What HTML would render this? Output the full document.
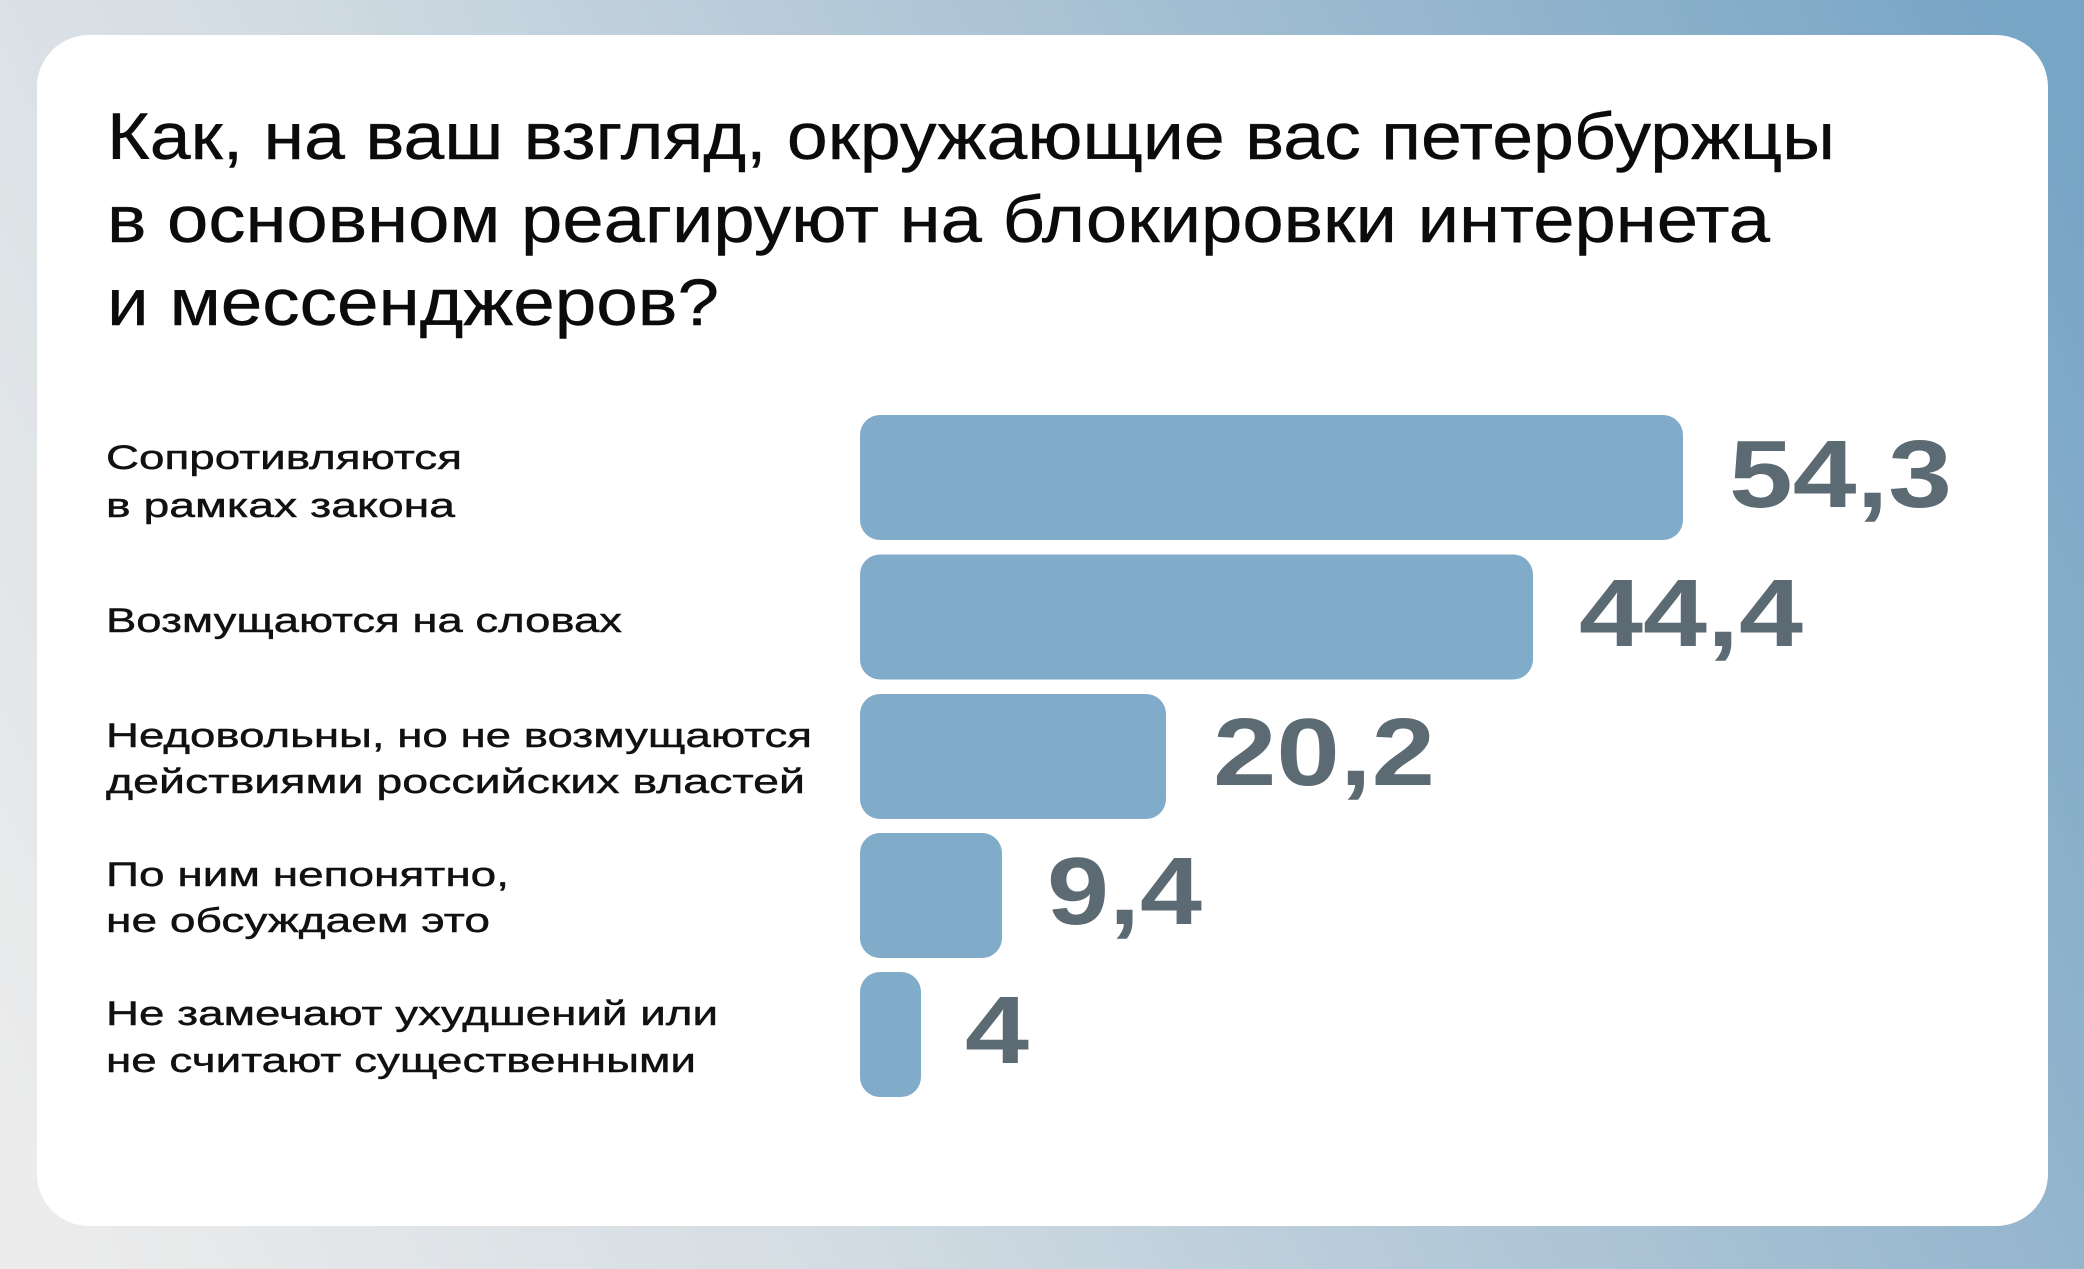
<!DOCTYPE html>
<html>
<head>
<meta charset="utf-8">
<style>
  html, body { margin: 0; padding: 0; width: 2084px; height: 1269px; overflow: hidden; }
  svg { display: block; }
  .title { font-family: "Liberation Sans", "DejaVu Sans", sans-serif; font-size: 66px; fill: #0b0b0b; stroke: #0b0b0b; stroke-width: 0.4px; }
  .lbl { font-family: "Liberation Sans", "DejaVu Sans", sans-serif; font-size: 34.5px; fill: #111111; stroke: #111111; stroke-width: 0.45px; }
  .val { font-family: "Liberation Sans", "DejaVu Sans", sans-serif; font-size: 96px; font-weight: bold; fill: #5c6a73; }
</style>
</head>
<body>
<svg width="2084" height="1269" viewBox="0 0 2084 1269" xmlns="http://www.w3.org/2000/svg">
  <defs>
    <linearGradient id="bg" x1="0" y1="1150" x2="2084" y2="150" gradientUnits="userSpaceOnUse">
      <stop offset="0" stop-color="#ececec"/>
      <stop offset="0.3" stop-color="#d4dde3"/>
      <stop offset="0.65" stop-color="#a6c0d3"/>
      <stop offset="1" stop-color="#77a5c5"/>
    </linearGradient>
  </defs>
  <rect x="0" y="0" width="2084" height="1269" fill="url(#bg)"/>
  <rect x="37" y="35" width="2011" height="1191" rx="52" ry="52" fill="#ffffff"/>

  <text class="title" x="107" y="159" textLength="1728" lengthAdjust="spacingAndGlyphs">Как, на ваш взгляд, окружающие вас петербуржцы</text>
  <text class="title" x="107" y="242" textLength="1663" lengthAdjust="spacingAndGlyphs">в основном реагируют на блокировки интернета</text>
  <text class="title" x="107" y="325" textLength="612" lengthAdjust="spacingAndGlyphs">и мессенджеров?</text>

  <!-- bars -->
  <rect x="860" y="415" width="823" height="125" rx="20" ry="20" fill="#80abc9"/>
  <rect x="860" y="554.5" width="673" height="125" rx="20" ry="20" fill="#80abc9"/>
  <rect x="860" y="694" width="306" height="125" rx="20" ry="20" fill="#80abc9"/>
  <rect x="860" y="833" width="142" height="125" rx="20" ry="20" fill="#80abc9"/>
  <rect x="860" y="972" width="61" height="125" rx="20" ry="20" fill="#80abc9"/>

  <!-- values -->
  <text class="val" x="1729" y="507" textLength="223" lengthAdjust="spacingAndGlyphs">54,3</text>
  <text class="val" x="1579" y="646" textLength="224" lengthAdjust="spacingAndGlyphs">44,4</text>
  <text class="val" x="1213" y="785" textLength="222" lengthAdjust="spacingAndGlyphs">20,2</text>
  <text class="val" x="1047" y="924" textLength="155" lengthAdjust="spacingAndGlyphs">9,4</text>
  <text class="val" x="965" y="1063" textLength="64" lengthAdjust="spacingAndGlyphs">4</text>

  <!-- labels -->
  <text class="lbl" x="106" y="469" textLength="356" lengthAdjust="spacingAndGlyphs">Сопротивляются</text>
  <text class="lbl" x="106" y="517" textLength="349" lengthAdjust="spacingAndGlyphs">в рамках закона</text>

  <text class="lbl" x="106" y="632" textLength="516" lengthAdjust="spacingAndGlyphs">Возмущаются на словах</text>

  <text class="lbl" x="106" y="747" textLength="706" lengthAdjust="spacingAndGlyphs">Недовольны, но не возмущаются</text>
  <text class="lbl" x="106" y="793" textLength="699" lengthAdjust="spacingAndGlyphs">действиями российских властей</text>

  <text class="lbl" x="106" y="886" textLength="403" lengthAdjust="spacingAndGlyphs">По ним непонятно,</text>
  <text class="lbl" x="106" y="932" textLength="384" lengthAdjust="spacingAndGlyphs">не обсуждаем это</text>

  <text class="lbl" x="106" y="1025" textLength="612" lengthAdjust="spacingAndGlyphs">Не замечают ухудшений или</text>
  <text class="lbl" x="106" y="1072" textLength="590" lengthAdjust="spacingAndGlyphs">не считают существенными</text>
</svg>
</body>
</html>
